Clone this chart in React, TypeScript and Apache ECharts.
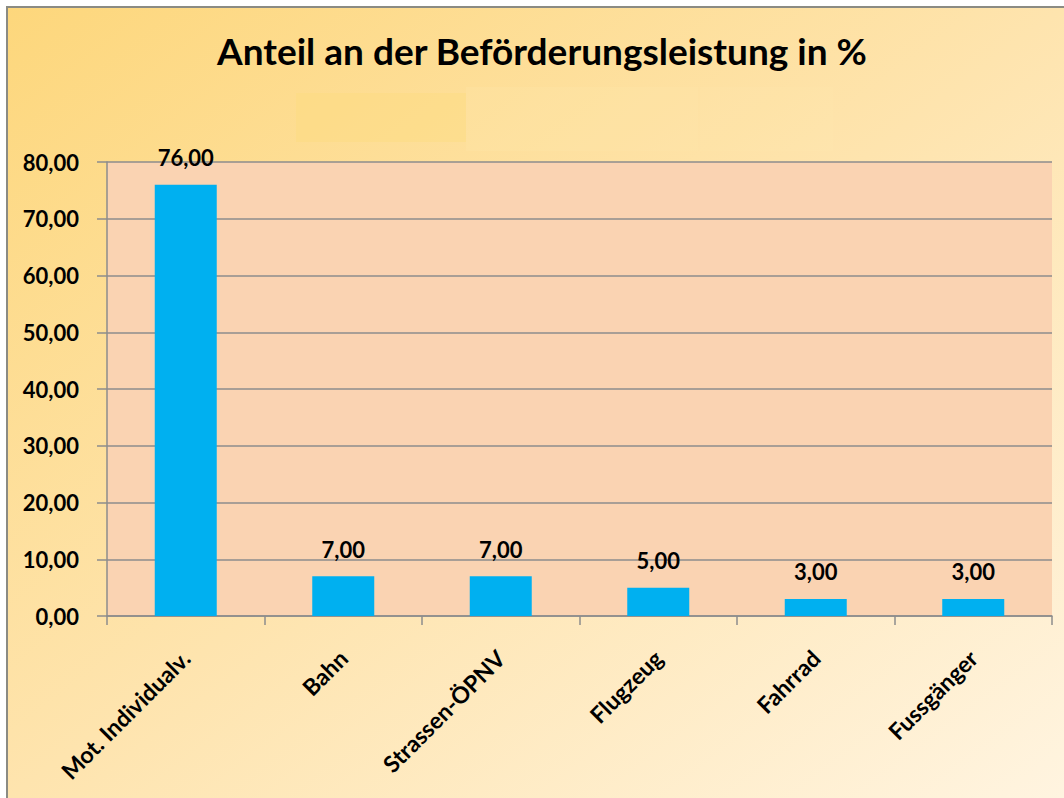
import React, { useEffect, useRef } from "react";
import * as echarts from "echarts";

const titleText = "Anteil an der Beförderungsleistung in %";
const categories = ["Mot. Individualv.", "Bahn", "Strassen-ÖPNV", "Flugzeug", "Fahrrad", "Fussgänger"];
const shares = [76, 7, 7, 5, 3, 3];
const yMin = 0;
const yMax = 80;
const yStep = 10;

const fmt = (v: number) => Number(v).toFixed(2).replace(".", ",");
const FONT = "Lato, 'Open Sans', sans-serif";

export default function App() {
  const ref = useRef<HTMLDivElement>(null);
  useEffect(() => {
    if (!ref.current) return;
    const chart = echarts.init(ref.current, undefined, { renderer: "svg" });
    chart.setOption({
      animation: false,
      backgroundColor: "transparent",
      graphic: [
        {
          type: "rect",
          shape: { x: 296, y: 93, width: 170, height: 49 },
          style: { fill: "rgba(253, 220, 125, 0.4)" },
          silent: true,
        },
        {
          type: "rect",
          shape: { x: 466, y: 87, width: 232, height: 64 },
          style: { fill: "rgba(255, 232, 170, 0.25)" },
          silent: true,
        },
        {
          type: "rect",
          shape: { x: 700, y: 87, width: 133, height: 64 },
          style: { fill: "rgba(255, 236, 185, 0.12)" },
          silent: true,
        },
        {
          type: "text",
          x: 542,
          y: 50,
          style: {
            text: titleText,
            fill: "#000",
            font: `bold 37px ${FONT}`,
            textAlign: "center",
            textVerticalAlign: "middle",
          },
        },
      ],
      grid: {
        left: 107,
        right: 12,
        top: 162,
        bottom: 182,
        show: true,
        backgroundColor: "#FAD3B2",
        borderWidth: 0,
      },
      xAxis: {
        type: "category",
        data: categories,
        axisLine: { show: true, lineStyle: { color: "#8c8c8c", width: 1.5 } },
        axisTick: { show: true, length: 9, lineStyle: { color: "#8c8c8c", width: 1.5 } },
        axisLabel: {
          rotate: 45,
          margin: 38,
          color: "#000",
          fontFamily: FONT,
          fontWeight: "bold",
          fontSize: 23,
          interval: 0,
        },
      },
      yAxis: {
        type: "value",
        min: yMin,
        max: yMax,
        interval: yStep,
        axisLine: { show: true, lineStyle: { color: "#8c8c8c", width: 1.5 } },
        axisTick: { show: true, length: 10, lineStyle: { color: "#8c8c8c", width: 1.5 } },
        splitLine: { show: true, lineStyle: { color: "#8c8c8c", width: 1.5 } },
        axisLabel: {
          margin: 28,
          color: "#000",
          fontFamily: FONT,
          fontWeight: "bold",
          fontSize: 22,
          formatter: (v: number) => fmt(v),
        },
      },
      series: [
        {
          type: "bar",
          data: shares,
          barWidth: 62,
          itemStyle: { color: "#00B0F0" },
          label: {
            show: true,
            position: "top",
            distance: 16,
            color: "#000",
            fontFamily: FONT,
            fontWeight: "bold",
            fontSize: 22,
            formatter: (p: any) => fmt(p.value),
          },
        },
      ],
    });
    return () => chart.dispose();
  }, []);

  return (
    <div style={{ position: "absolute", left: 0, top: 0, width: 1064, height: 798, background: "#fff", overflow: "hidden" }}>
      <div
        style={{
          position: "absolute",
          left: 6,
          top: 6,
          width: 1058,
          height: 792,
          boxSizing: "border-box",
          borderLeft: "2px solid #8b8b83",
          borderTop: "2px solid #8b8b83",
          background: "linear-gradient(to bottom right, #FDD77C 0%, #FEE4AE 50%, #FFF4E0 100%)",
        }}
      />
      <div ref={ref} style={{ position: "absolute", left: 0, top: 0, width: 1064, height: 798 }} />
    </div>
  );
}
